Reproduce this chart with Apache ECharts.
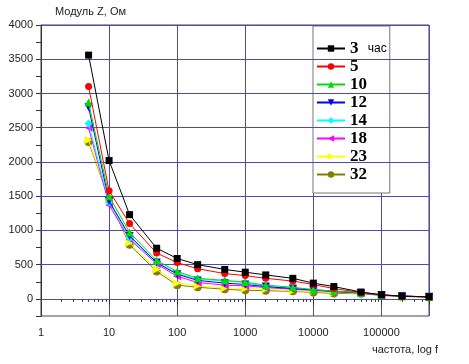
<!DOCTYPE html>
<html lang="ru">
<head>
  <meta charset="UTF-8">
  <title>Модуль Z</title>
  <script src="https://cdn.jsdelivr.net/npm/echarts@6/dist/echarts.min.js"></script>
  <style>body{margin:0;background:#fff;}</style>
</head>
<body>
<div id="main" style="width:469px;height:364px;"></div>
<script>
  // частоты, Гц
  var freq = [5, 10, 20, 50, 100, 200, 500, 1000, 2000, 5000, 10000, 20000, 50000, 100000, 200000, 500000];
  // модуль Z для каждого времени
  var z3  = [3560, 2020, 1230, 740, 590, 500, 430, 390, 350, 300, 230, 180, 100, 60, 40, 30];
  var z5  = [3100, 1580, 1100, 670, 530, 440, 370, 340, 300, 260, 210, 150, 95, 60, 40, 30];
  var z10 = [2870, 1500, 970, 560, 400, 300, 270, 245, 200, 170, 135, 115, 90, 55, 40, 30];
  var z12 = [2800, 1430, 920, 530, 360, 270, 230, 210, 180, 150, 130, 110, 85, 55, 40, 30];
  var z14 = [2560, 1410, 890, 530, 375, 290, 260, 240, 180, 160, 135, 115, 90, 55, 40, 30];
  var z18 = [2500, 1370, 870, 510, 330, 240, 200, 190, 165, 140, 125, 105, 85, 55, 40, 30];
  var z23 = [2320, 1450, 820, 430, 230, 190, 160, 150, 140, 120, 110, 95, 80, 55, 40, 30];
  var z32 = [2290, 1450, 790, 400, 200, 170, 140, 125, 120, 110, 95, 80, 75, 50, 35, 25];
  var names = ['3', '5', '10', '12', '14', '18', '23', '32'];
  var yTicks = [0, 500, 1000, 1500, 2000, 2500, 3000, 3500, 4000];

  var allZ = [z3, z5, z10, z12, z14, z18, z23, z32];
  var colors = ['#000000', '#ff0000', '#00dd00', '#0000ff', '#00ffff', '#ff00ff', '#ffff00', '#808000'];
  var symbols = ['rect', 'circle', 'triangle', 'triangle', 'diamond', 'triangle', 'triangle', 'circle'];
  var rotates = [0, 0, 0, 180, 0, 90, -90, 0];
  var sizes = [7, 7, 8, 8, 8, 8, 8, 8];

  var gridColor = '#4a4ab8';
  var series = [];
  for (var i = 0; i < names.length; i++) {
    var pts = [];
    for (var j = 0; j < freq.length; j++) pts.push([freq[j], allZ[i][j]]);
    series.push({
      name: names[i],
      type: 'line',
      data: pts,
      symbol: symbols[i],
      symbolRotate: rotates[i],
      symbolSize: sizes[i],
      itemStyle: {color: colors[i]},
      lineStyle: {color: colors[i], width: 1},
      z: 10 - i
    });
  }
  // горизонтальная сетка
  series.push({
    type: 'line', data: [], silent: true,
    markLine: {
      silent: true, symbol: 'none', label: {show: false},
      lineStyle: {color: gridColor, width: 1, type: 'solid'},
      data: yTicks.map(function (v) { return {yAxis: v}; })
    }
  });

  var myChart = echarts.init(document.getElementById('main'));
  var option = {
    animation: false,
    backgroundColor: '#fff',
    grid: {left: 41, top: 25, right: 40, bottom: 48, show: true, borderColor: '#444', borderWidth: 1},
    graphic: [{
      type: 'text', left: 372, top: 344,
      style: {text: 'частота, log f', font: '11px "Liberation Sans"', fill: '#222'}
    }],
    legend: {
      data: names,
      orient: 'vertical',
      left: 313, top: 26,
      backgroundColor: '#fff',
      borderColor: '#777', borderWidth: 1,
      padding: [14, 3, 10, 3],
      itemGap: 1,
      itemWidth: 28, itemHeight: 8,
      formatter: function (n) { return n === '3' ? '{b|3} {c|час}' : '{b|' + n + '}'; },
      textStyle: {
        rich: {
          b: {fontFamily: 'Liberation Serif', fontWeight: 'bold', fontSize: 17, color: '#000', lineHeight: 17},
          c: {fontFamily: 'Liberation Sans', fontSize: 12, color: '#000', padding: [0, 0, 0, 6]}
        }
      }
    },
    xAxis: {
      type: 'log', logBase: 10, min: 1, max: 500000,
      axisLine: {lineStyle: {color: '#333'}},
      axisTick: {lineStyle: {color: '#333'}, length: 6},
      minorTick: {show: true, splitNumber: 9, length: 3, lineStyle: {color: '#333'}},
      axisLabel: {
        fontFamily: 'Liberation Sans', fontSize: 11, color: '#222', margin: 11,
        formatter: function (v) {
          var e = Math.log10(v);
          return Math.abs(e - Math.round(e)) < 1e-6 ? String(Math.round(v)) : '';
        }
      },
      splitLine: {show: true, lineStyle: {color: gridColor, width: 1}}
    },
    yAxis: {
      type: 'value', min: -250, max: 4000, interval: 250,
      name: 'Модуль Z, Ом', nameLocation: 'end', nameGap: 8,
      nameTextStyle: {fontFamily: 'Liberation Sans', fontSize: 11, color: '#222', align: 'left', padding: [0, 0, 0, 14]},
      axisLine: {show: true, lineStyle: {color: '#333'}},
      axisTick: {show: true, lineStyle: {color: '#333'}, length: 5},
      axisLabel: {
        fontFamily: 'Liberation Sans', fontSize: 11, color: '#222', margin: 8,
        formatter: function (v) { return (v >= 0 && v % 500 === 0) ? String(v) : ''; }
      },
      splitLine: {show: false}
    },
    series: series
  };
  myChart.setOption(option);
</script>
</body>
</html>
